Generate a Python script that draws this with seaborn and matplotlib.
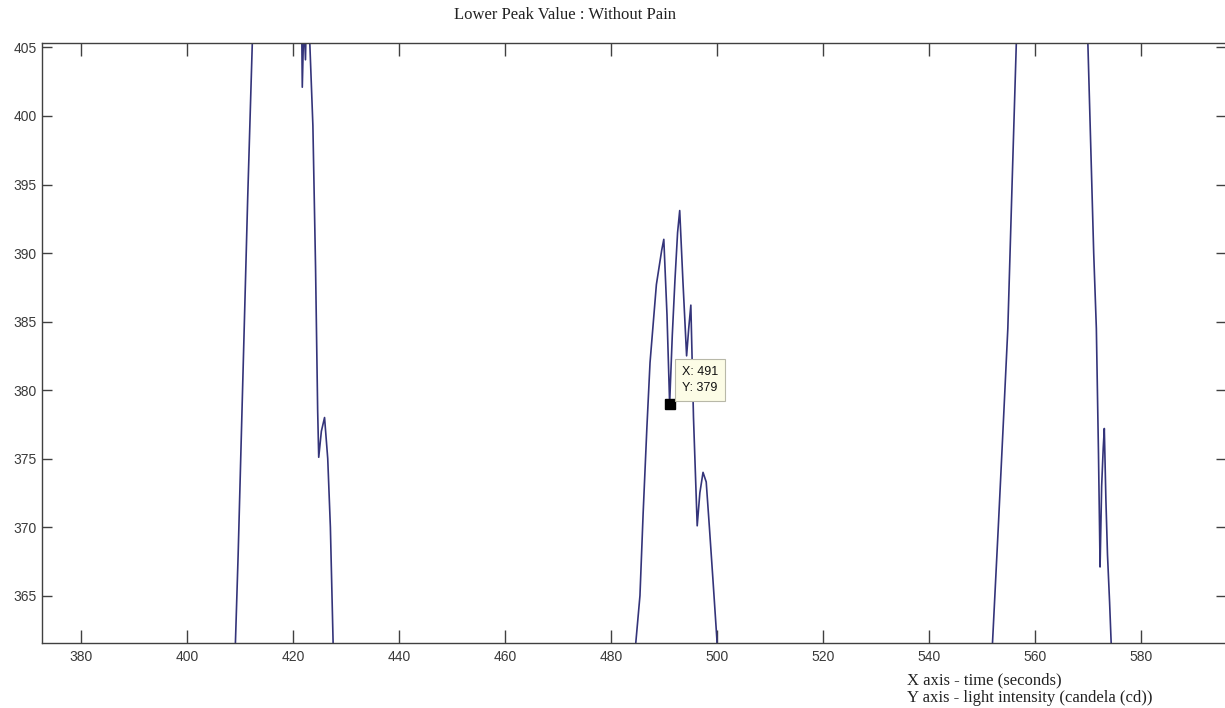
import numpy as np
import pandas as pd
import matplotlib
matplotlib.use("Agg")
import matplotlib.pyplot as plt
import seaborn as sns

# time (s) and light intensity (cd); points outside the
# visible window only steer the line out of frame
time_s = [372.0, 405.0, 409.0, 409.6, 410.5, 411.4, 412.4, 413.5,
          420.5, 421.5, 421.7, 422.0, 422.3, 422.6, 423.1, 423.7, 424.2,
          424.6, 424.8, 425.3, 425.9, 426.5, 427.0, 427.5, 428.0, 430.0,
          484.0, 484.6, 485.4, 486.0, 486.7, 487.3, 488.5, 489.5, 489.9,
          490.5, 491.0, 491.5, 492.0, 492.5, 492.9, 493.5, 494.2, 494.6,
          495.0, 495.5, 496.2, 496.7, 497.3, 497.9, 498.5, 499.2, 499.9,
          500.3, 502.0,
          551.5, 551.9, 553.0, 554.0, 554.8, 555.6, 556.4, 557.0,
          568.5, 569.9, 570.5, 571.0, 571.5, 571.9, 572.1, 572.2, 572.5,
          572.8, 573.0, 573.3, 573.6, 574.0, 574.3, 574.6, 576.0, 597.0]
intensity = [340, 340, 360.5, 368, 381, 394, 407, 425,
             425, 410, 402.1, 407, 404.1, 410, 405.5, 399.3, 389,
             378.5, 375.1, 377, 378.0, 375, 370, 361.8, 352, 340,
             355, 361.5, 365, 371, 377.2, 382, 387.7, 390.2, 391.0,
             385.5, 379, 384, 388, 391.5, 393.1, 388, 382.5, 384.5,
             386.2, 378, 370.1, 372.5, 374.0, 373.3, 370, 366, 361.9,
             356, 340,
             356, 361.5, 370, 378, 384.5, 395, 405.3, 415,
             420, 405.3, 397, 390, 384.5, 375.4, 370, 367.1, 373,
             375.8, 377.2, 372, 368, 364.5, 361.5, 356, 340, 340]

tip_x, tip_y = 491, 379
title = "Lower Peak Value : Without Pain"
notes = ["X axis - time (seconds)", "Y axis - light intensity (candela (cd))"]
xticks = list(range(380, 600, 20))
yticks = list(range(365, 410, 5))

df = pd.DataFrame({"t": time_s, "v": intensity})

sns.set_style("ticks")
plt.rcParams["font.family"] = ["Liberation Sans", "DejaVu Sans"]

fig = plt.figure(figsize=(12.25, 7.08), dpi=100)
ax = fig.add_axes([0.0343, 0.0918, 0.9667, 0.847])

sns.lineplot(data=df, x="t", y="v", ax=ax, estimator=None, sort=False,
             color="#34347a", linewidth=1.2)

ax.plot([tip_x], [tip_y], marker="s", color="black", markersize=6.5,
        linestyle="none", zorder=5)
ax.annotate(f"X: {tip_x}\nY: {tip_y}", xy=(tip_x, tip_y),
            xytext=(12, 10), textcoords="offset pixels",
            ha="left", va="bottom", fontsize=9, color="#111111",
            linespacing=1.45,
            bbox=dict(boxstyle="square,pad=0.55", fc="#fcfce6",
                      ec="#b8b8a8", lw=0.8), zorder=6)

ax.set_xlim(372.6, 596.0)
ax.set_ylim(361.55, 405.3)
ax.set_xticks(xticks)
ax.set_yticks(yticks)
ax.set_xlabel("")
ax.set_ylabel("")

for s in ax.spines.values():
    s.set_color("#404040")
    s.set_linewidth(1.0)
ax.tick_params(direction="in", top=True, right=True, colors="#404040",
               labelcolor="#3a3a3a", labelsize=10, width=1.0)
ax.tick_params(axis="x", length=9.5, pad=5)
ax.tick_params(axis="y", length=7.5, pad=4)

fig.text(565 / 1225, 1 - 15 / 708, title, ha="center", va="center",
         family="Liberation Serif", fontsize=12, color="#222222")
fig.text(907 / 1225, 1 - 680 / 708, notes[0], ha="left", va="center",
         family="Liberation Serif", fontsize=12, color="#222222")
fig.text(907 / 1225, 1 - 698 / 708, notes[1], ha="left", va="center",
         family="Liberation Serif", fontsize=12, color="#222222")

fig.savefig("out.png", dpi=100)
